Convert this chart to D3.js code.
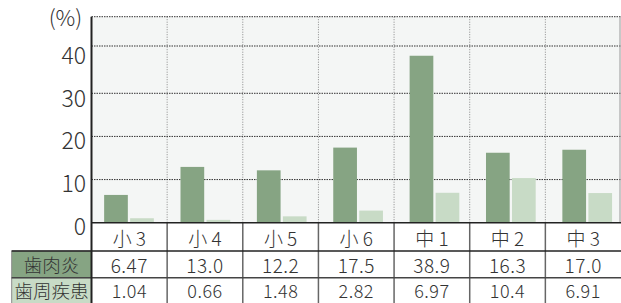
<!DOCTYPE html>
<html><head><meta charset="utf-8">
<script src="https://cdn.jsdelivr.net/npm/d3@7"></script>
<style>
html,body{margin:0;padding:0;background:#fff;}
svg{display:block;}
text{font-family:"Noto Sans CJK JP","Noto Sans",sans-serif;fill:#333;font-weight:300;}
</style></head>
<body><svg id="c" width="621" height="303"></svg>
<script>
const categories = ["小 3","小 4","小 5","小 6","中 1","中 2","中 3"];
const seriesNames = ["歯肉炎","歯周疾患"];
const gingivitis = [6.47,13.0,12.2,17.5,38.9,16.3,17.0];
const periodontal = [1.04,0.66,1.48,2.82,6.97,10.4,6.91];
const gingivitisText = ["6.47","13.0","12.2","17.5","38.9","16.3","17.0"];
const periodontalText = ["1.04","0.66","1.48","2.82","6.97","10.4","6.91"];
const yTicks = [0,10,20,30,40];
const yMax = 48;
const colors = ["#86a483","#c8dbc6"];

const svg = d3.select("#c");
const pLeft = 91.5, pRight = 621, pTop = 16.7, zeroY = 222.7;
const rowY = [222.7, 251, 277.7, 303];
const labelLeft = 11.7;

const y = d3.scaleLinear().domain([0, yMax]).range([zeroY, pTop]);
const yGrid = d3.scaleLinear().domain([0, 30, 40, yMax]).range([zeroY, 93.3, 46, pTop]);
const xCol = d3.scaleBand().domain(categories).range([pLeft, pRight]);
const xBar = d3.scaleBand().domain(categories).range([90.8, 625.4]);
const barW = 23.7, gap = 2.3;

// plot background
svg.append("rect").attr("x", pLeft).attr("y", pTop).attr("width", pRight - pLeft).attr("height", zeroY - pTop).attr("fill", "#f4f6f5");

// vertical grid
categories.slice(1).forEach(c => {
  svg.append("line").attr("x1", xCol(c)).attr("x2", xCol(c)).attr("y1", pTop).attr("y2", zeroY)
    .attr("stroke", "#888").attr("stroke-width", 1).attr("stroke-dasharray", "1,1.5");
});
// horizontal grid
[...yTicks.slice(1), yMax].forEach(t => {
  svg.append("line").attr("x1", pLeft).attr("x2", pRight).attr("y1", yGrid(t)).attr("y2", yGrid(t))
    .attr("stroke", "#333").attr("stroke-width", 1).attr("stroke-dasharray", "1.5,1");
});
// right border
svg.append("line").attr("x1", 620).attr("x2", 620).attr("y1", pTop).attr("y2", zeroY).attr("stroke", "#999").attr("stroke-width", 1);

// bars
const g = svg.append("g");
categories.forEach((c, i) => {
  const cx = xBar(c) + xBar.bandwidth() / 2;
  [gingivitis[i], periodontal[i]].forEach((v, s) => {
    const x0 = s === 0 ? cx - gap / 2 - barW : cx + gap / 2;
    g.append("rect").attr("x", x0).attr("y", y(v)).attr("width", barW).attr("height", zeroY - y(v)).attr("fill", colors[s]);
  });
});

// y tick labels
const yAxis = d3.axisLeft(y).tickValues(yTicks).tickSize(0).tickPadding(0);
const ga = svg.append("g").attr("transform", `translate(86,4)`).call(yAxis);
ga.select(".domain").remove();
ga.selectAll("text").style("font-size", "23px").style("font-family", "'Noto Sans CJK JP',sans-serif").style("font-weight", "300").attr("fill", "#333").attr("dy", "0.35em");

svg.append("text").attr("x", 65.5).attr("y", 16).attr("text-anchor", "middle").attr("dominant-baseline", "central")
  .style("font-size", "22px").text("(%)");

// table: row label cells
seriesNames.forEach((n, s) => {
  svg.append("rect").attr("x", labelLeft).attr("y", rowY[s + 1]).attr("width", pLeft - labelLeft).attr("height", rowY[s + 2] - rowY[s + 1] + 1)
    .attr("fill", colors[s]).attr("stroke", "#8a8a8a").attr("stroke-width", 1);
  svg.append("text").attr("x", (labelLeft + pLeft) / 2).attr("y", (rowY[s + 1] + rowY[s + 2]) / 2)
    .attr("text-anchor", "middle").attr("dominant-baseline", "central").style("font-size", "18.5px").text(n);
});

// table vertical lines
categories.slice(1).forEach(c => {
  svg.append("line").attr("x1", xCol(c)).attr("x2", xCol(c)).attr("y1", zeroY).attr("y2", 304)
    .attr("stroke", "#666").attr("stroke-width", 1.5);
});
// table horizontal lines
svg.append("line").attr("x1", labelLeft).attr("x2", pRight).attr("y1", rowY[1]).attr("y2", rowY[1]).attr("stroke", "#222").attr("stroke-width", 1.5);
svg.append("line").attr("x1", labelLeft).attr("x2", pRight).attr("y1", rowY[2]).attr("y2", rowY[2]).attr("stroke", "#444").attr("stroke-width", 1.5);
// x axis line
svg.append("line").attr("x1", pLeft).attr("x2", pRight).attr("y1", zeroY).attr("y2", zeroY).attr("stroke", "#222").attr("stroke-width", 1.5);
// y axis line
svg.append("line").attr("x1", pLeft).attr("x2", pLeft).attr("y1", pTop).attr("y2", 304).attr("stroke", "#222").attr("stroke-width", 2);

// table texts
const rows = [categories, gingivitisText, periodontalText];
rows.forEach((arr, r) => {
  categories.forEach((c, i) => {
    svg.append("text").attr("x", xCol(c) + xCol.bandwidth() / 2).attr("y", (rowY[r] + rowY[r + 1]) / 2 + (r === 2 ? 0 : 0.5))
      .attr("text-anchor", "middle").attr("dominant-baseline", "central")
      .style("font-size", r === 2 ? "18px" : "19px").style("letter-spacing", r === 0 ? "0px" : "0.5px").text(arr[i]);
  });
});
</script></body></html>
